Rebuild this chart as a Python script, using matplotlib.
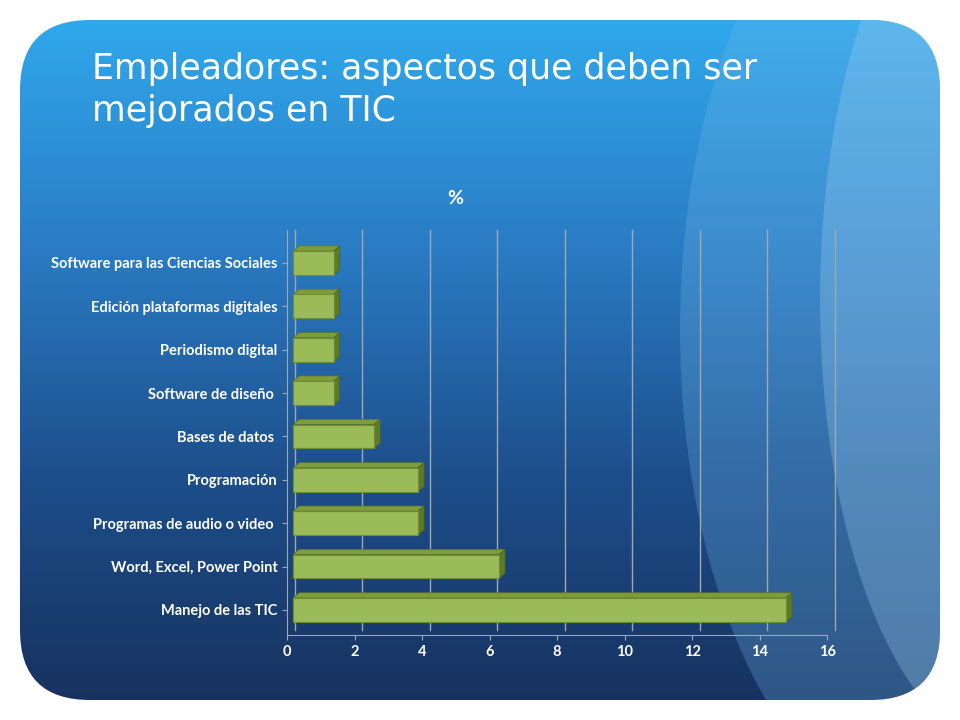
import numpy as np
import matplotlib
matplotlib.use("Agg")
import matplotlib.pyplot as plt
from matplotlib.patches import FancyBboxPatch, Ellipse, Polygon

categories = ["Manejo de las TIC", "Word, Excel, Power Point", "Programas de audio o video ",
              "Programación", "Bases de datos ", "Software de diseño ", "Periodismo digital",
              "Edición plataformas digitales", "Software para las Ciencias Sociales"]
values = [14.6, 6.1, 3.7, 3.7, 2.4, 1.2, 1.2, 1.2, 1.2]
xticks = [0, 2, 4, 6, 8, 10, 12, 14, 16]
title = "Empleadores: aspectos que deben ser\nmejorados en TIC"
chart_title = "%"

fig = plt.figure(figsize=(9.6, 7.2), dpi=100)
fig.patch.set_facecolor("white")

bg = fig.add_axes([0, 0, 1, 1], zorder=0)
bg.set_xlim(0, 960); bg.set_ylim(720, 0); bg.axis("off")
grad = np.linspace(0, 1, 256)[:, None]
cmap = matplotlib.colors.LinearSegmentedColormap.from_list("b", ["#30a8ec", "#2a7cc4", "#1d4f8c", "#17325f"])
im = bg.imshow(grad, cmap=cmap, extent=[20, 940, 700, 20], aspect="auto", zorder=0)
clip = FancyBboxPatch((20, 20), 920, 680, boxstyle="round,pad=0,rounding_size=70",
                      transform=bg.transData, facecolor="none", edgecolor="none")
bg.add_patch(clip)
im.set_clip_path(clip)
e1 = Ellipse((930, 330), 500, 980, facecolor="#6fb8ea", alpha=0.28, zorder=1)
e2 = Ellipse((1010, 300), 380, 900, facecolor="#9fd0f2", alpha=0.3, zorder=1)
for e in (e1, e2):
    bg.add_patch(e); e.set_clip_path(clip)
bg.text(92, 52, title, color="white", fontsize=25, family="DejaVu Sans", va="top",
        linespacing=1.3)
bg.text(455, 198, chart_title, color="white", fontsize=14, fontweight="bold",
        ha="center", va="center", family="Lato")

ax = fig.add_axes([0.299, 0.118, 0.5625, 0.5625], zorder=2)
ax.set_facecolor("none")
ax.set_xlim(0, 16)
ax.set_ylim(-0.58, 8.76)
y = np.arange(len(categories))
dx, dy = 0.18, 0.12
for xv in xticks:
    ax.plot([xv + dx * 1.3, xv + dx * 1.3], [-0.58 + dy, 8.76], color="#a0a8b0", lw=1, zorder=1, clip_on=False)
h = 0.55
for yi, v in zip(y, values):
    x0 = dx
    ax.add_patch(Polygon([(x0, yi + h / 2), (x0 + dx, yi + h / 2 + dy), (x0 + v + dx, yi + h / 2 + dy), (x0 + v, yi + h / 2)],
                         facecolor="#7e9c3a", edgecolor="#5c7428", lw=0.5, zorder=3))
    ax.add_patch(Polygon([(x0 + v, yi - h / 2), (x0 + v + dx, yi - h / 2 + dy), (x0 + v + dx, yi + h / 2 + dy), (x0 + v, yi + h / 2)],
                         facecolor="#5f7a26", edgecolor="#4d6320", lw=0.5, zorder=3))
ax.barh(y, values, left=dx, height=h, color="#9bbb59", edgecolor="#6f8c32", lw=0.8, zorder=4)
ax.set_yticks(y)
ax.set_yticklabels(categories)
ax.set_xticks(xticks)
ax.set_xticklabels([str(t) for t in xticks])
ax.tick_params(colors="#a0a8b0", labelcolor="white", labelsize=10.5)
for lab in ax.get_xticklabels() + ax.get_yticklabels():
    lab.set_fontweight("bold"); lab.set_family("Lato")
for s in ("top", "right"):
    ax.spines[s].set_visible(False)
for s in ("left", "bottom"):
    ax.spines[s].set_color("#a0a8b0")
fig.savefig("out.png", dpi=100)
